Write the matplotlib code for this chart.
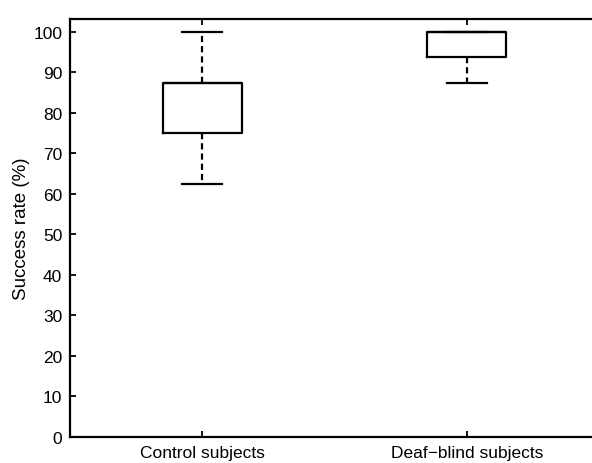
import matplotlib
matplotlib.use("Agg")
import matplotlib.pyplot as plt

plt.rcParams['font.family'] = ['Liberation Sans', 'DejaVu Sans']

# box statistics (success rate, %)
groups = ['Control subjects', 'Deaf\u2212blind subjects']
whisker_low = [62.5, 87.5]
q1 = [75.0, 93.75]
median = [87.5, 100.0]
q3 = [87.5, 100.0]
whisker_high = [100.0, 100.0]

stats = []
for i in range(len(groups)):
    stats.append({'whislo': whisker_low[i], 'q1': q1[i], 'med': median[i],
                  'q3': q3[i], 'whishi': whisker_high[i], 'fliers': []})

fig = plt.figure(figsize=(5.92, 4.64), dpi=100)
ax = fig.add_axes([70 / 592, 26 / 464, 529 / 592, 418 / 464])

lw = 1.6
ax.bxp(stats, positions=[1, 2], widths=0.3, showfliers=False,
       boxprops=dict(color='black', linewidth=lw),
       whiskerprops=dict(color='black', linewidth=lw, linestyle=(0, (2.8, 1.8))),
       capprops=dict(color='black', linewidth=lw),
       medianprops=dict(color='black', linewidth=lw),
       capwidths=0.15)

ax.set_xlim(0.5, 2.5)
ax.set_ylim(0, 103.2)
ax.set_yticks(range(0, 101, 10))
ax.set_xticks([1, 2])
ax.set_xticklabels(groups)
ax.set_ylabel('Success rate (%)', fontsize=13.5, labelpad=2.5)

ax.tick_params(direction='in', length=4, width=1.3, labelsize=12.5,
               top=True, right=True, pad=5.5)
ax.tick_params(axis='x', pad=6)
for s in ax.spines.values():
    s.set_linewidth(lw)

fig.savefig('out.png', dpi=100)
